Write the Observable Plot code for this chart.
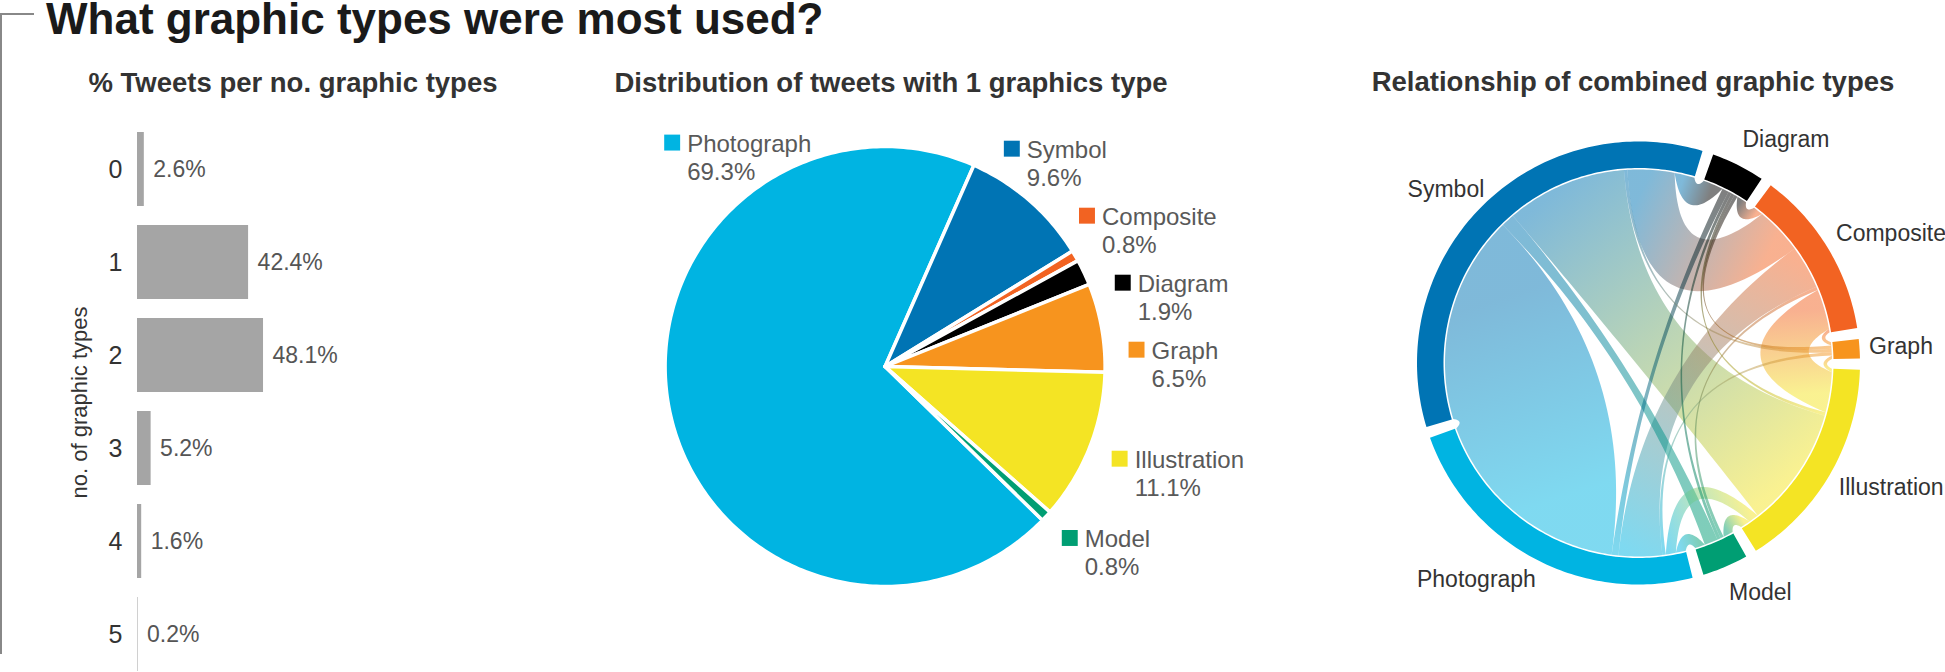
<!DOCTYPE html>
<html><head><meta charset="utf-8">
<script src="https://cdn.jsdelivr.net/npm/d3@7"></script>
<script src="https://cdn.jsdelivr.net/npm/@observablehq/plot@0.6"></script>
<style>
html,body{margin:0;padding:0;background:#fff;}
#page{position:relative;width:1945px;height:672px;overflow:hidden;font-family:"Liberation Sans",Arial,Helvetica,sans-serif;}
.abs{position:absolute;}
.title{left:46px;top:-3px;font-size:44px;line-height:44px;font-weight:bold;color:#1a1a1a;white-space:nowrap;}
.sub{font-size:27.5px;line-height:27px;font-weight:bold;color:#333;white-space:nowrap;text-align:center;width:700px;top:69px;}
</style></head><body>
<div id="page">
 <div id="bar" class="abs" style="left:0;top:0;width:560px;height:672px"></div>
 <div id="pie" class="abs" style="left:560px;top:0;width:730px;height:672px"></div>
 <div id="chord" class="abs" style="left:1290px;top:0;width:655px;height:672px"></div>
 <div class="abs" style="left:0;top:13px;width:34px;height:2px;background:#888"></div>
 <div class="abs" style="left:0;top:13px;width:2px;height:641px;background:#888"></div>
 <div class="abs title">What graphic types were most used?</div>
 <div class="abs sub" style="left:-57px">% Tweets per no. graphic types</div>
 <div class="abs sub" style="left:541px">Distribution of tweets with 1 graphics type</div>
 <div class="abs sub" style="left:1283px;top:68px">Relationship of combined graphic types</div>
</div>
<script>
// ---------- DATA ----------
const barCategories = ["0", "1", "2", "3", "4", "5"];
const barValues = [2.6, 42.4, 48.1, 5.2, 1.6, 0.2];

const pieCategories = ["Photograph", "Symbol", "Composite", "Diagram", "Graph", "Illustration", "Model"];
const pieValues = [69.3, 9.6, 0.8, 1.9, 6.5, 11.1, 0.8];

const chordGroups = ["Diagram", "Composite", "Graph", "Illustration", "Model", "Photograph", "Symbol"];
const linkSource = ["Symbol","Symbol","Symbol","Symbol","Symbol","Symbol","Photograph","Photograph","Photograph","Photograph","Photograph","Composite","Composite","Composite","Composite","Diagram","Diagram","Diagram","Graph","Illustration"];
const linkTarget = ["Photograph","Illustration","Composite","Diagram","Model","Graph","Composite","Diagram","Graph","Illustration","Model","Diagram","Graph","Illustration","Model","Graph","Illustration","Model","Illustration","Model"];
const linkValue = [62, 36, 14, 6, 4, 1, 13, 2, 1, 3, 3, 3, 1, 12, 1, 1, 1, 1, 1, 3];

// ---------- STYLE ----------
const typeNames = ["Photograph", "Symbol", "Composite", "Diagram", "Graph", "Illustration", "Model"];
const typeColors = ["#00b4e2", "#0074b4", "#f26322", "#000000", "#f7941e", "#f4e424", "#009e73"];
const colorOf = n => typeColors[typeNames.indexOf(n)];
const FONT = '"Liberation Sans", Arial, Helvetica, sans-serif';
const rad = d => d * Math.PI / 180;

// ---------- BAR CHART ----------
const barData = barCategories.map((c, i) => ({cat: c, value: barValues[i]}));
const bar = Plot.plot({
  width: 560, height: 672,
  marginLeft: 137, marginTop: 132, marginBottom: 0, marginRight: 0,
  x: {domain: [0, 100], range: [137, 399], axis: null},
  y: {domain: barCategories, range: [113.4, 690], padding: 0.2, axis: null},
  style: {fontFamily: FONT, background: "transparent", overflow: "visible", color: "#333"},
  marks: [
    Plot.barX(barData, {x: "value", y: "cat", fill: "#a5a5a5"}),
    Plot.text(barData, {x: "value", y: "cat", text: d => d.value.toFixed(1) + "%", dx: 9, textAnchor: "start", fill: "#555", fontSize: 23}),
    Plot.axisY({tickSize: 0, tickPadding: 15, fontSize: 25, label: null}),
    Plot.text(["no. of graphic types"], {text: d => d, frameAnchor: "left", textAnchor: "middle", lineAnchor: "middle", dx: -58, rotate: -90, fontSize: 22, fill: "#333"})
  ]
});
document.getElementById("bar").appendChild(bar);

// ---------- PIE ----------
const PIE_START = 134.32; // rotation of first slice (deg, clockwise from top)
const pieTotal = d3.sum(pieValues);
let acc = PIE_START;
const slices = pieCategories.map((name, i) => {
  const a0 = acc, a1 = acc + pieValues[i] / pieTotal * 360; acc = a1;
  return {name, value: pieValues[i], a0, a1, mid: ((a0 + a1) / 2) % 360};
});
const slicePts = [];
for (const s of slices) {
  slicePts.push({name: s.name, x: 0, y: 0});
  const n = Math.max(2, Math.ceil(s.a1 - s.a0));
  for (let k = 0; k <= n; k++) {
    const t = rad(s.a0 + (s.a1 - s.a0) * k / n);
    slicePts.push({name: s.name, x: Math.sin(t), y: -Math.cos(t)});
  }
}
// label layout
const PIE_RPX = 220;
const LR = 252 / PIE_RPX, GAP = 67 / PIE_RPX, BIG_R = 309 / PIE_RPX;
const labels = [];
const right = slices.filter(s => s.value / pieTotal < 0.5 && s.mid < 180)
  .map(s => ({...s, ty: -LR * Math.cos(rad(s.mid))}))
  .sort((a, b) => a.ty - b.ty);
let clusters = right.map(d => ({items: [d]}));
const placeC = c => { c.top = d3.mean(c.items, d => d.ty) - GAP * (c.items.length - 1) / 2; };
clusters.forEach(placeC);
let changed = true;
while (changed) {
  changed = false;
  for (let i = 0; i < clusters.length - 1; i++) {
    const a = clusters[i], b = clusters[i + 1];
    if (a.top + GAP * a.items.length > b.top) { a.items.push(...b.items); placeC(a); clusters.splice(i + 1, 1); changed = true; break; }
  }
}
clusters.forEach(c => c.items.forEach((d, k) => {
  const y = c.top + k * GAP;
  labels.push({name: d.name, value: d.value, y, x: Math.sqrt(Math.max(0, LR * LR - y * y))});
}));
for (const s of slices.filter(s => s.value / pieTotal >= 0.5)) {
  const t = rad(s.a1 - 0.27 * (s.a1 - s.a0));
  labels.push({name: s.name, value: s.value, x: BIG_R * Math.sin(t), y: -BIG_R * Math.cos(t)});
}
const pcx = 884.6 - 560, pcy = 366;
const pie = Plot.plot({
  width: 730, height: 672, margin: 0,
  x: {domain: [-1, 1], range: [pcx - PIE_RPX, pcx + PIE_RPX], axis: null},
  y: {domain: [-1, 1], range: [pcy - PIE_RPX, pcy + PIE_RPX], axis: null},
  color: {domain: typeNames, range: typeColors},
  style: {fontFamily: FONT, background: "transparent", overflow: "visible"},
  marks: [
    Plot.line(slicePts, {x: "x", y: "y", z: "name", fill: "name", stroke: "white", strokeWidth: 3.5, curve: "linear-closed"}),
    Plot.dot(labels, {x: "x", y: "y", fill: "name", symbol: "square", r: 9}),
    Plot.text(labels, {x: "x", y: "y", text: "name", dx: 15, dy: 9, textAnchor: "start", lineAnchor: "bottom", fontSize: 24, fill: "#595959"}),
    Plot.text(labels, {x: "x", y: "y", text: d => d.value.toFixed(1) + "%", dx: 15, dy: 37, textAnchor: "start", lineAnchor: "bottom", fontSize: 24, fill: "#595959"})
  ]
});
document.getElementById("pie").appendChild(pie);

// ---------- CHORD ----------
const n = chordGroups.length;
const M = chordGroups.map(() => chordGroups.map(() => 0));
linkSource.forEach((s, k) => {
  const i = chordGroups.indexOf(s), j = chordGroups.indexOf(linkTarget[k]);
  M[i][j] += linkValue[k]; M[j][i] += linkValue[k];
});
const totals = M.map(r => d3.sum(r));
const CH_START = 19.7, PAD = 2.9;
const kdeg = (360 - n * PAD) / d3.sum(totals);
const groups = [];
let ga = CH_START;
chordGroups.forEach((g, i) => { const a0 = ga, a1 = ga + totals[i] * kdeg; groups.push({name: g, a0, a1}); ga = a1 + PAD; });
const sub = chordGroups.map(() => []);
chordGroups.forEach((g, i) => {
  const order = d3.range(n).filter(j => M[i][j] > 0).sort((p, q) => ((q - i + n) % n) - ((p - i + n) % n));
  let a = groups[i].a0;
  for (const j of order) { sub[i][j] = [a, a + M[i][j] * kdeg]; a += M[i][j] * kdeg; }
});
const CH_R = 221.5, RIN = 195 / 221.5, RRIB = 193.5 / 221.5;
const P = (deg, r) => [r * Math.sin(rad(deg)), -r * Math.cos(rad(deg))];
const ringPts = [];
for (const g of groups) {
  const nn = Math.max(2, Math.ceil(g.a1 - g.a0));
  for (let k = 0; k <= nn; k++) { const [x, y] = P(g.a0 + (g.a1 - g.a0) * k / nn, 1); ringPts.push({id: g.name, x, y}); }
  for (let k = nn; k >= 0; k--) { const [x, y] = P(g.a0 + (g.a1 - g.a0) * k / nn, RIN); ringPts.push({id: g.name, x, y}); }
}
const ribbons = linkSource.map((s, k) => {
  const i = chordGroups.indexOf(s), j = chordGroups.indexOf(linkTarget[k]);
  return {id: "rib" + k, i, j, value: linkValue[k], s: sub[i][j], t: sub[j][i]};
}).sort((a, b) => b.value - a.value);
const ribPts = [];
function arcTo(id, a0, a1) {
  const nn = Math.max(2, Math.ceil(Math.abs(a1 - a0)));
  for (let k = 0; k <= nn; k++) { const [x, y] = P(a0 + (a1 - a0) * k / nn, RRIB); ribPts.push({id, x, y}); }
}
// quadratic link whose depth grows with the distance between its ends
function bez(id, p0, p2) {
  const mx = (p0[0] + p2[0]) / 2, my = (p0[1] + p2[1]) / 2;
  const L = Math.hypot(p2[0] - p0[0], p2[1] - p0[1]);
  const mr = Math.hypot(mx, my);
  let cx = 0, cy = 0;
  if (mr > 1e-6) { const cr = Math.max(0, mr - L * 1.0); cx = mx / mr * cr; cy = my / mr * cr; }
  for (let k = 1; k < 40; k++) { const t = k / 40, u = 1 - t;
    ribPts.push({id, x: u * u * p0[0] + 2 * u * t * cx + t * t * p2[0], y: u * u * p0[1] + 2 * u * t * cy + t * t * p2[1]}); }
}
for (const r of ribbons) {
  arcTo(r.id, r.s[0], r.s[1]);
  bez(r.id, P(r.s[1], RRIB), P(r.t[0], RRIB));
  arcTo(r.id, r.t[0], r.t[1]);
  bez(r.id, P(r.t[1], RRIB), P(r.s[0], RRIB));
}
const chLabels = groups.map(g => {
  const m = rad((g.a0 + g.a1) / 2), rightSide = Math.sin(m) >= 0;
  const rx = (rightSide ? 231 : 218) / CH_R, ry = (rightSide ? 250 : 245) / CH_R;
  return {name: g.name, x: rx * Math.sin(m), y: -ry * Math.cos(m), right: rightSide};
});
const ccx = 1638 - 1290, ccy = 362.5;
const chord = Plot.plot({
  width: 655, height: 672, margin: 0,
  x: {domain: [-1, 1], range: [ccx - CH_R, ccx + CH_R], axis: null},
  y: {domain: [-1, 1], range: [ccy - CH_R, ccy + CH_R], axis: null},
  color: {type: "ordinal", domain: [...typeNames, ...ribbons.map(r => r.id)], range: [...typeColors, ...ribbons.map(r => `url(#g-${r.id})`)]},
  style: {fontFamily: FONT, background: "transparent", overflow: "visible"},
  marks: [
    Plot.line(ribPts, {x: "x", y: "y", z: "id", fill: "id", fillOpacity: 0.5, curve: "linear-closed"}),
    Plot.line(ringPts, {x: "x", y: "y", z: "id", fill: "id", curve: "linear-closed"}),
    Plot.text(chLabels.filter(d => d.right), {x: "x", y: "y", text: "name", textAnchor: "start", lineAnchor: "middle", fontSize: 23, fill: "#333"}),
    Plot.text(chLabels.filter(d => !d.right), {x: "x", y: "y", text: "name", textAnchor: "end", lineAnchor: "middle", fontSize: 23, fill: "#333"})
  ]
});
const sx = chord.scale("x"), sy = chord.scale("y");
const NS = "http://www.w3.org/2000/svg";
const defs = document.createElementNS(NS, "defs");
for (const r of ribbons) {
  const ps = P((r.s[0] + r.s[1]) / 2, RRIB), pt = P((r.t[0] + r.t[1]) / 2, RRIB);
  const lg = document.createElementNS(NS, "linearGradient");
  lg.setAttribute("id", "g-" + r.id);
  lg.setAttribute("gradientUnits", "userSpaceOnUse");
  lg.setAttribute("x1", sx.apply(ps[0])); lg.setAttribute("y1", sy.apply(ps[1]));
  lg.setAttribute("x2", sx.apply(pt[0])); lg.setAttribute("y2", sy.apply(pt[1]));
  [[0, colorOf(chordGroups[r.i])], [1, colorOf(chordGroups[r.j])]].forEach(([o, c]) => {
    const st = document.createElementNS(NS, "stop"); st.setAttribute("offset", o); st.setAttribute("stop-color", c); lg.appendChild(st);
  });
  defs.appendChild(lg);
}
chord.insertBefore(defs, chord.firstChild);
document.getElementById("chord").appendChild(chord);
</script>
</body></html>
